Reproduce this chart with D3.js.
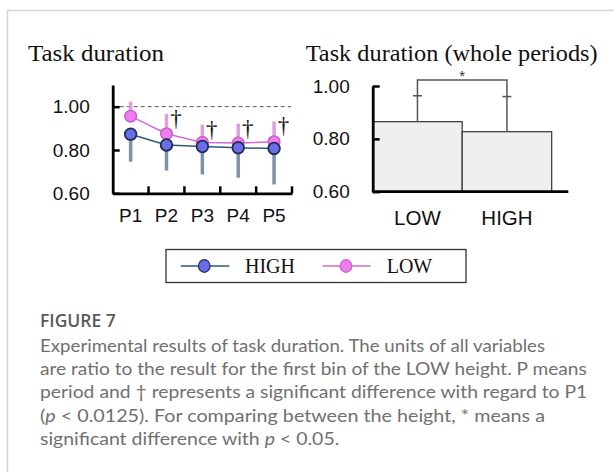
<!DOCTYPE html>
<html>
<head>
<meta charset="utf-8">
<script src="https://cdn.jsdelivr.net/npm/d3@7"></script>
<style>
  html, body { margin: 0; padding: 0; background: #fff; }
  svg { display: block; }
</style>
</head>
<body>
<svg id="chart" width="614" height="472"></svg>
<script>
// ---------- data ----------
const periods = ["P1", "P2", "P3", "P4", "P5"];
const highMean = [0.873, 0.823, 0.816, 0.810, 0.807];
const highSD   = [0.127, 0.118, 0.129, 0.138, 0.166];   // drawn downward
const lowMean  = [0.956, 0.875, 0.835, 0.832, 0.838];
const lowSD    = [0.067, 0.092, 0.082, 0.089, 0.094];   // drawn upward
const sigVsP1  = [false, true, true, true, true];
const yTicksLeft = [0.6, 0.8, 1.0];

const groups    = ["LOW", "HIGH"];
const wholeMean = [0.865, 0.827];
const wholeSD   = [0.098, 0.133];
const yTicksRight = [0.6, 0.8, 1.0];
const bracketLevel = 1.023;

const captionTitle = "FIGURE 7";
const captionLines = [
  [["Experimental results of task duration. The units of all variables", false]],
  [["are ratio to the result for the first bin of the LOW height. P means", false]],
  [["period and \u2020 represents a significant difference with regard to P1", false]],
  [["(", false], ["p", true], [" < 0.0125). For comparing between the height, * means a", false]],
  [["significant difference with ", false], ["p", true], [" < 0.05.", false]]
];

// ---------- setup ----------
const svg = d3.select("#chart");
const fmt = d3.format(".2f");
const sans = "Liberation Sans, Arial, sans-serif";
const serif = "Liberation Serif, Times New Roman, serif";

// figure frame
svg.append("path").attr("d", "M7.5,472 V10.5 H614")
  .attr("fill", "none").attr("stroke", "#d4d4d4").attr("stroke-width", 1.5);

// ---------- left chart ----------
const xL = d3.scaleBand().domain(periods).range([112.7, 292]);
const yL = d3.scaleLinear().domain([0.6, 1.1]).range([193.3, 85]);
const gL = svg.append("g");

svg.append("text").attr("x", 28).attr("y", 61)
  .attr("font-family", serif).attr("font-size", 23).attr("fill", "#111")
  .attr("textLength", 136).attr("lengthAdjust", "spacingAndGlyphs")
  .text("Task duration");

// dashed reference
gL.append("line").attr("x1", xL.range()[0]).attr("x2", xL.range()[1] - 1)
  .attr("y1", yL(1.0)).attr("y2", yL(1.0))
  .attr("stroke", "#555").attr("stroke-width", 1).attr("stroke-dasharray", "4,3");

const cx = i => xL(periods[i]) + xL.bandwidth() / 2;

// error bars
gL.selectAll(".ebH").data(highMean).join("line")
  .attr("x1", (d, i) => cx(i)).attr("x2", (d, i) => cx(i))
  .attr("y1", d => yL(d)).attr("y2", (d, i) => yL(d - highSD[i]))
  .attr("stroke", "#7d93aa").attr("stroke-width", 3.5);
gL.selectAll(".ebL").data(lowMean).join("line")
  .attr("x1", (d, i) => cx(i)).attr("x2", (d, i) => cx(i))
  .attr("y1", d => yL(d)).attr("y2", (d, i) => yL(d + lowSD[i]))
  .attr("stroke", "#dca0dc").attr("stroke-width", 3.5);

// lines
const lineGen = d3.line().x((d, i) => cx(i)).y(d => yL(d));
gL.append("path").datum(highMean).attr("d", lineGen)
  .attr("fill", "none").attr("stroke", "#2d5878").attr("stroke-width", 1.5);
gL.append("path").datum(lowMean).attr("d", lineGen)
  .attr("fill", "none").attr("stroke", "#d46cd4").attr("stroke-width", 1.5);

// markers
gL.selectAll(".mL").data(lowMean).join("circle")
  .attr("cx", (d, i) => cx(i)).attr("cy", d => yL(d)).attr("r", 5.8)
  .attr("fill", "#f07df0").attr("stroke", "#c85ec8").attr("stroke-width", 1.5);
gL.selectAll(".mH").data(highMean).join("circle")
  .attr("cx", (d, i) => cx(i)).attr("cy", d => yL(d)).attr("r", 5.8)
  .attr("fill", "#6c6ce6").attr("stroke", "#1b2f55").attr("stroke-width", 1.8);

// daggers
gL.selectAll(".dag").data(lowMean.map((d, i) => ({ d, i })).filter(o => sigVsP1[o.i])).join("text")
  .attr("x", o => cx(o.i) + 9.5).attr("y", o => yL(o.d + lowSD[o.i]) + 12)
  .attr("text-anchor", "middle").attr("font-family", serif).attr("font-size", 23)
  .attr("fill", "#111").text("\u2020");

// y axis
const axL = gL.append("g").attr("transform", `translate(${xL.range()[0]},0)`)
  .call(d3.axisLeft(yL).tickValues(yTicksLeft).tickFormat(fmt).tickSize(-7).tickSizeOuter(0).tickPadding(23));
axL.select(".domain").attr("stroke", "#000").attr("stroke-width", 2.8);
axL.selectAll(".tick line").attr("stroke", "#000").attr("stroke-width", 2.5);
axL.selectAll(".tick text").attr("font-family", sans).attr("font-size", 19).attr("fill", "#111");

// x axis
const axXL = gL.append("g").attr("transform", `translate(0,${yL(0.6)})`)
  .call(d3.axisBottom(xL).tickSize(0).tickPadding(15));
axXL.select(".domain").attr("stroke", "#000").attr("stroke-width", 2.8);
axXL.selectAll(".tick text").attr("font-family", sans).attr("font-size", 19).attr("fill", "#111");
gL.selectAll(".xt").data(periods).join("line")
  .attr("x1", d => xL(d) + xL.bandwidth()).attr("x2", d => xL(d) + xL.bandwidth())
  .attr("y1", yL(0.6)).attr("y2", yL(0.6) - 7)
  .attr("stroke", "#000").attr("stroke-width", 2.5);

// ---------- right chart ----------
const xR = d3.scaleBand().domain(groups).range([372.7, 551.7]).paddingInner(0);
const yR = d3.scaleLinear().domain([0.6, 1.0]).range([191.7, 86]);
const gR = svg.append("g");

svg.append("text").attr("x", 305.7).attr("y", 61)
  .attr("font-family", serif).attr("font-size", 23).attr("fill", "#111")
  .attr("textLength", 292).attr("lengthAdjust", "spacingAndGlyphs")
  .text("Task duration (whole periods)");

gR.selectAll(".bar").data(wholeMean).join("rect")
  .attr("x", (d, i) => xR(groups[i])).attr("width", xR.bandwidth())
  .attr("y", d => yR(d)).attr("height", d => yR(0.6) - yR(d))
  .attr("fill", "#efefef").attr("stroke", "#333").attr("stroke-width", 1.2);

const bx = i => xR(groups[i]) + xR.bandwidth() / 2;
gR.selectAll(".eb").data(wholeMean).join("line")
  .attr("x1", (d, i) => bx(i)).attr("x2", (d, i) => bx(i))
  .attr("y1", d => yR(d)).attr("y2", (d, i) => yR(d + wholeSD[i]))
  .attr("stroke", "#555").attr("stroke-width", 1.5);
gR.selectAll(".cap").data(wholeMean).join("line")
  .attr("x1", (d, i) => bx(i) - 4.5).attr("x2", (d, i) => bx(i) + 4.5)
  .attr("y1", (d, i) => yR(d + wholeSD[i])).attr("y2", (d, i) => yR(d + wholeSD[i]))
  .attr("stroke", "#555").attr("stroke-width", 1.5);

// significance bracket
gR.append("path")
  .attr("d", `M${bx(0)},${yR(wholeMean[0] + wholeSD[0])} V${yR(bracketLevel)} H${bx(1)} V${yR(wholeMean[1] + wholeSD[1])}`)
  .attr("fill", "none").attr("stroke", "#555").attr("stroke-width", 1.5);
gR.append("text").attr("x", (bx(0) + bx(1)) / 2).attr("y", yR(bracketLevel) + 1.5)
  .attr("text-anchor", "middle").attr("font-family", sans).attr("font-size", 15)
  .attr("fill", "#333").text("*");

const axR = gR.append("g").attr("transform", `translate(${xR.range()[0]},0)`)
  .call(d3.axisLeft(yR).tickValues(yTicksRight).tickFormat(fmt).tickSize(-7).tickSizeOuter(0).tickPadding(23));
axR.select(".domain").attr("stroke", "#000").attr("stroke-width", 2.8);
axR.selectAll(".tick line").attr("stroke", "#000").attr("stroke-width", 2.5);
axR.selectAll(".tick text").attr("font-family", sans).attr("font-size", 19).attr("fill", "#111");

const xRaxisScale = d3.scaleBand().domain(groups).range([372.7, 551.7]);
const axXR = gR.append("g").attr("transform", `translate(0,${yR(0.6)})`)
  .call(d3.axisBottom(xRaxisScale).tickSize(0).tickPadding(19));
axXR.select(".domain").remove();
gR.append("line").attr("x1", 372.7).attr("x2", 568.3).attr("y1", yR(0.6)).attr("y2", yR(0.6))
  .attr("stroke", "#000").attr("stroke-width", 2.8);
axXR.selectAll(".tick text").attr("font-family", sans).attr("font-size", 20.5).attr("fill", "#111");

// ---------- legend ----------
const lg = svg.append("g");
lg.append("rect").attr("x", 166).attr("y", 249.5).attr("width", 300).attr("height", 33)
  .attr("fill", "#fff").attr("stroke", "#333").attr("stroke-width", 1.3);
const legendItems = [
  { name: "HIGH", x0: 180.7, x1: 229.3, cx: 204.3, tx: 245, fill: "#6c6ce6", stroke: "#1b2f55", line: "#2d5878" },
  { name: "LOW", x0: 322.7, x1: 370.7, cx: 346, tx: 386.7, fill: "#f07df0", stroke: "#c85ec8", line: "#d46cd4" }
];
legendItems.forEach(it => {
  lg.append("line").attr("x1", it.x0).attr("x2", it.x1).attr("y1", 266).attr("y2", 266)
    .attr("stroke", it.line).attr("stroke-width", 1.5);
  lg.append("ellipse").attr("cx", it.cx).attr("cy", 266).attr("rx", 5.8).attr("ry", 6.3)
    .attr("fill", it.fill).attr("stroke", it.stroke).attr("stroke-width", 1.2);
  lg.append("text").attr("x", it.tx).attr("y", 273.3)
    .attr("font-family", serif).attr("font-size", 20).attr("fill", "#111").text(it.name);
});

// ---------- caption ----------
svg.append("text").attr("x", 40).attr("y", 327)
  .attr("font-family", "Open Sans, sans-serif").attr("font-weight", 600).attr("font-size", 17.5)
  .attr("fill", "#595959").text(captionTitle);
const lineWidths = [505, 546.7, 547.3, 505, 299.3];
captionLines.forEach((parts, li) => {
  const t = svg.append("text").attr("x", 40).attr("y", 351.7 + li * 23.35)
    .attr("font-family", "Lato, sans-serif").attr("font-size", 17.5).attr("fill", "#707070")
    .attr("textLength", lineWidths[li]).attr("lengthAdjust", "spacingAndGlyphs");
  parts.forEach(([s, it]) => t.append("tspan").attr("font-style", it ? "italic" : "normal").text(s));
});
</script>
</body>
</html>
